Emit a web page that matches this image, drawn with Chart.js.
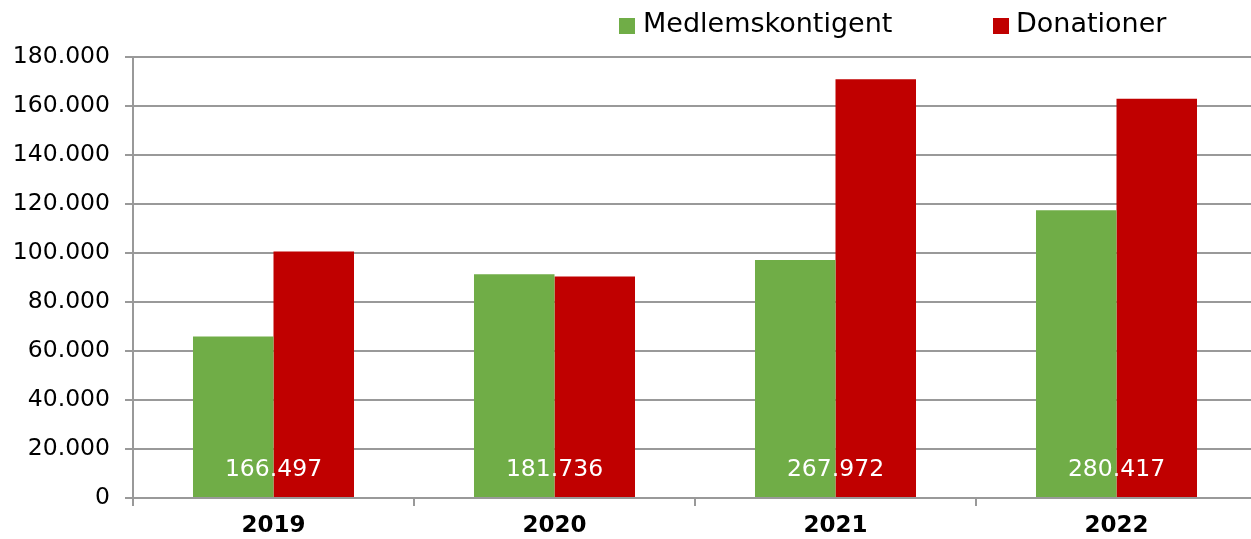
<!DOCTYPE html>
<html>
<head>
<meta charset="utf-8">
<script src="https://cdn.jsdelivr.net/npm/chart.js@4/dist/chart.umd.min.js"></script>
<style>
  html, body { margin: 0; padding: 0; background: #fff; overflow: hidden; }
  #wrap { width: 1251px; height: 539px; overflow: hidden; }
</style>
</head>
<body>
<div id="wrap"><canvas id="chart" width="1257" height="539"></canvas></div>
<script>
const years = ['2019', '2020', '2021', '2022'];
const medlemskontigent = [65900, 91300, 97100, 117400];
const donationer = [100600, 90400, 170900, 163000];
const totals = ['166.497', '181.736', '267.972', '280.417'];
const seriesNames = ['Medlemskontigent', 'Donationer'];
const seriesColors = ['#70AD47', '#C00000'];

const FONT = "'DejaVu Sans', Verdana, sans-serif";
const GRID = '#999999';

function fmt(v) {
  return v.toString().replace(/\B(?=(\d{3})+(?!\d))/g, '.');
}

// totals written in white across the bottom of each pair of bars
const totalLabels = {
  id: 'totalLabels',
  afterDatasetsDraw(chart) {
    const ctx = chart.ctx;
    const x = chart.scales.x;
    ctx.save();
    ctx.font = '23.5px ' + FONT;
    ctx.fillStyle = '#ffffff';
    ctx.textAlign = 'center';
    ctx.textBaseline = 'middle';
    totals.forEach((t, i) => {
      ctx.fillText(t, x.getPixelForValue(i), chart.chartArea.bottom - 28);
    });
    ctx.restore();
  }
};

// legend in the top right, like the original
const topLegend = {
  id: 'topLegend',
  afterDraw(chart) {
    const ctx = chart.ctx;
    const items = [{ box: 619, text: 643 }, { box: 993, text: 1016 }];
    ctx.save();
    ctx.font = '27px ' + FONT;
    ctx.textBaseline = 'middle';
    items.forEach((it, i) => {
      ctx.fillStyle = seriesColors[i];
      ctx.fillRect(it.box, 18, 16, 16);
      ctx.fillStyle = '#000000';
      ctx.fillText(seriesNames[i], it.text, 25);
    });
    ctx.restore();
  }
};

new Chart(document.getElementById('chart'), {
  type: 'bar',
  data: {
    labels: years,
    datasets: [
      { label: seriesNames[0], data: medlemskontigent, backgroundColor: seriesColors[0] },
      { label: seriesNames[1], data: donationer, backgroundColor: seriesColors[1] }
    ]
  },
  options: {
    responsive: false,
    animation: false,
    layout: { padding: { top: 57, right: 0, bottom: 0, left: 0 } },
    datasets: { bar: { categoryPercentage: 0.573, barPercentage: 1.0 } },
    plugins: {
      legend: { display: false },
      tooltip: { enabled: false }
    },
    scales: {
      x: {
        grid: { offset: true, drawOnChartArea: false, color: GRID, lineWidth: 2, tickLength: 8 },
        border: { color: GRID, width: 2 },
        ticks: { color: '#000', font: { family: FONT, size: 23, weight: 'bold', lineHeight: 1 }, padding: 9 },
        afterFit(scale) { scale.height = 41; }
      },
      y: {
        min: 0,
        max: 180000,
        ticks: {
          stepSize: 20000,
          color: '#000',
          padding: 15,
          font: { family: FONT, size: 23.5 },
          callback: v => fmt(v)
        },
        grid: { color: GRID, lineWidth: 2, tickLength: 8 },
        border: { color: GRID, width: 2 },
        afterFit(scale) { scale.width = 133; }
      }
    }
  },
  plugins: [totalLabels, topLegend]
});
</script>
</body>
</html>
